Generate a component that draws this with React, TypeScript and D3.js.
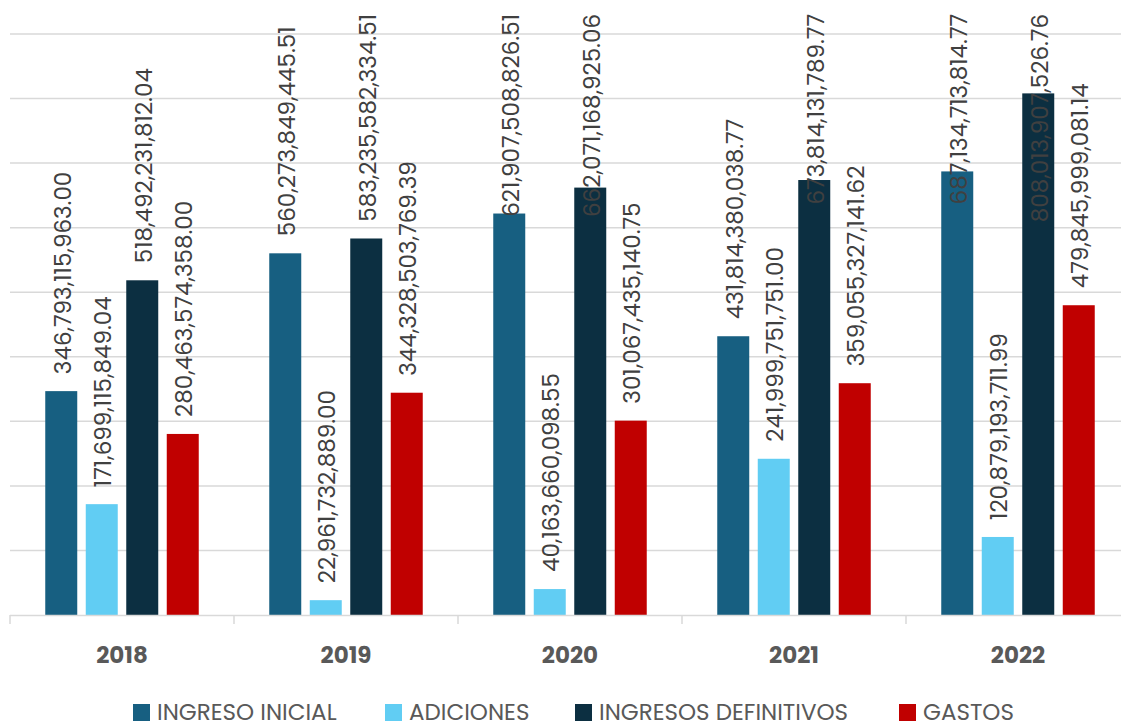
import React, { useEffect, useRef } from "react";
import * as d3 from "d3";

const years = ["2018", "2019", "2020", "2021", "2022"];
const seriesNames = ["INGRESO INICIAL", "ADICIONES", "INGRESOS DEFINITIVOS", "GASTOS"];
const seriesColors = ["#175f81", "#61cdf3", "#0c2f41", "#c00000"];
const ingresoInicial = [346793115963.0, 560273849445.51, 621907508826.51, 431814380038.77, 687134713814.77];
const adiciones = [171699115849.04, 22961732889.0, 40163660098.55, 241999751751.0, 120879193711.99];
const ingresosDefinitivos = [518492231812.04, 583235582334.51, 662071168925.06, 673814131789.77, 808013907526.76];
const gastos = [280463574358.0, 344328503769.39, 301067435140.75, 359055327141.62, 479845999081.14];
const yTicks = [0, 100e9, 200e9, 300e9, 400e9, 500e9, 600e9, 700e9, 800e9, 900e9];

const W = 1121;
const H = 723;
const FONT = "Poppins, 'Open Sans', Roboto, sans-serif";

export default function App() {
  const ref = useRef<SVGSVGElement | null>(null);

  useEffect(() => {
    const svg = d3.select(ref.current);
    svg.selectAll("*").remove();
    const data = [ingresoInicial, adiciones, ingresosDefinitivos, gastos];
    const fmt = d3.format(",.2f");

    const x0 = d3.scaleBand<string>().domain(years).range([10, 1130]).padding(0);
    const bw = x0.bandwidth();
    const x1 = d3
      .scaleBand<string>()
      .domain(seriesNames)
      .range([bw / 2 - 81, bw / 2 + 81])
      .paddingInner(0.21)
      .paddingOuter(0.105);
    const y = d3.scaleLinear().domain([0, 900e9]).range([615, 34]);

    // gridlines
    svg
      .append("g")
      .selectAll("line")
      .data(yTicks.slice(1))
      .join("line")
      .attr("x1", 10)
      .attr("x2", W)
      .attr("y1", (d) => y(d))
      .attr("y2", (d) => y(d))
      .attr("stroke", "#d9d9d9")
      .attr("stroke-width", 1.5);

    // bars
    const groups = svg
      .append("g")
      .selectAll("g")
      .data(years)
      .join("g")
      .attr("transform", (d) => `translate(${x0(d)},0)`);

    seriesNames.forEach((s, si) => {
      groups
        .append("rect")
        .attr("x", x1(s)!)
        .attr("width", x1.bandwidth())
        .attr("y", (_, i) => y(data[si][i]))
        .attr("height", (_, i) => y(0) - y(data[si][i]))
        .attr("fill", seriesColors[si]);
    });

    // axis
    const ax = svg.append("g");
    ax.append("line")
      .attr("x1", 10)
      .attr("x2", W)
      .attr("y1", 615.5)
      .attr("y2", 615.5)
      .attr("stroke", "#d9d9d9")
      .attr("stroke-width", 1.5);
    ax.selectAll("line.tick")
      .data(d3.range(0, years.length + 1))
      .join("line")
      .attr("class", "tick")
      .attr("x1", (i) => 10 + i * bw)
      .attr("x2", (i) => 10 + i * bw)
      .attr("y1", 615)
      .attr("y2", 624)
      .attr("stroke", "#d9d9d9")
      .attr("stroke-width", 1.5);
    ax.selectAll("text")
      .data(years)
      .join("text")
      .attr("x", (d) => x0(d)! + bw / 2)
      .attr("y", 655)
      .attr("dy", "0.35em")
      .attr("text-anchor", "middle")
      .attr("font-family", FONT)
      .attr("font-weight", 700)
      .attr("font-size", 23)
      .attr("fill", "#595959")
      .text((d) => d);

    // labels
    const labels = svg.append("g");
    years.forEach((yr, i) => {
      seriesNames.forEach((s, si) => {
        const v = data[si][i];
        const cx = x0(yr)! + x1(s)! + x1.bandwidth() / 2 + 1;
        const t = labels
          .append("text")
          .attr("font-family", FONT)
          .attr("font-size", 23)
          .attr("fill", "#404040")
          .attr("dy", "0.36em")
          .text(fmt(v));
        const len = (t.node() as SVGTextElement).getComputedTextLength();
        let base = y(v) - 17;
        if (base - len < 14) {
          base = 14 + len;
        }
        t.attr("transform", `translate(${cx},${base}) rotate(-90)`);
      });
    });

    // legend
    const legendX = [133, 385, 575, 899];
    const lg = svg.append("g");
    seriesNames.forEach((s, si) => {
      lg.append("rect")
        .attr("x", legendX[si])
        .attr("y", 704)
        .attr("width", 17)
        .attr("height", 17)
        .attr("fill", seriesColors[si]);
      lg.append("text")
        .attr("x", legendX[si] + 24)
        .attr("y", 712)
        .attr("dy", "0.35em")
        .attr("font-family", FONT)
        .attr("font-size", 23)
        .attr("fill", "#595959")
        .text(s);
    });
  }, []);

  return (
    <svg
      ref={ref}
      width={W}
      height={H}
      style={{ position: "absolute", left: 0, top: 0, background: "#ffffff" }}
    />
  );
}
